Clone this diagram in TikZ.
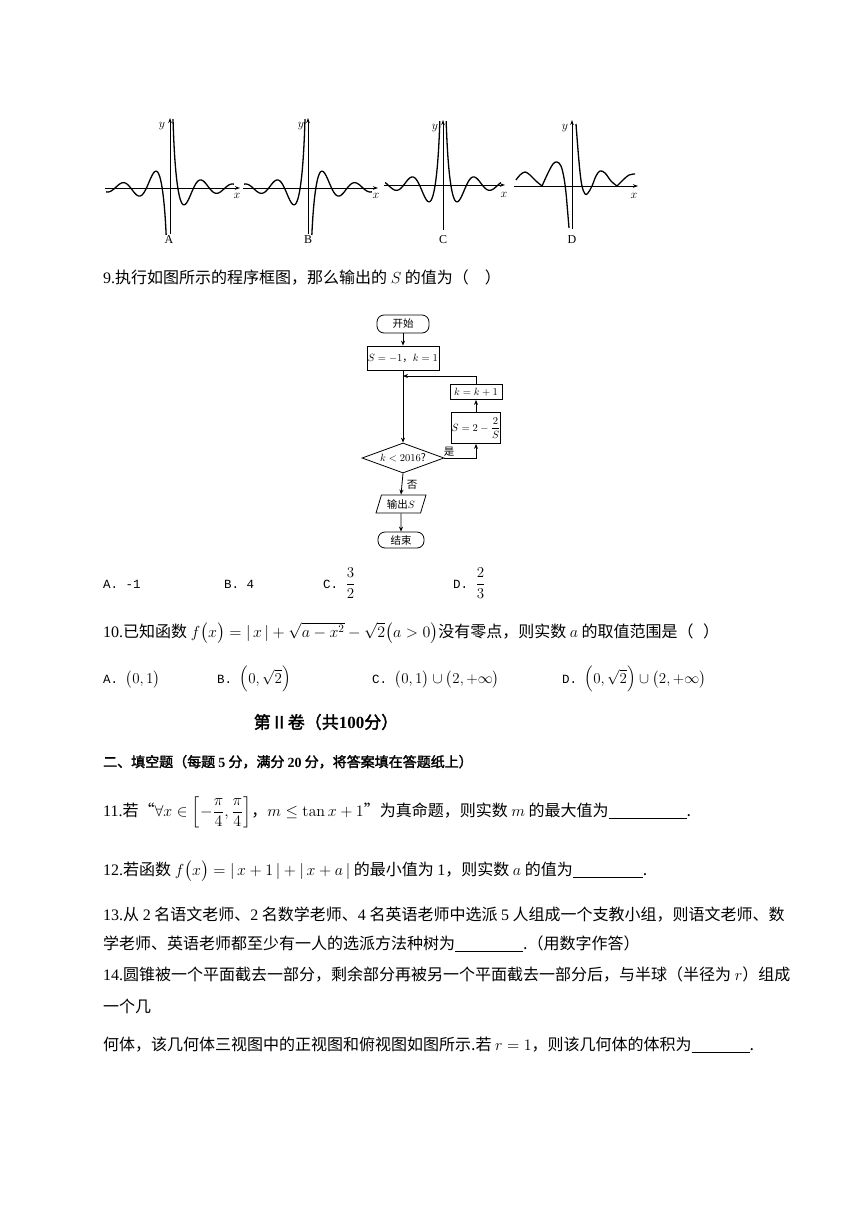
\RequirePackage{fix-cm}
\documentclass[tikz,border=0pt]{standalone}
\usepackage{amsmath}
\usepackage[no-math]{fontspec}
\setmainfont{Liberation Serif}
\newfontfamily\cjk{Noto Sans CJK SC}
\newfontfamily\cjkb[FakeBold=2]{Noto Sans CJK SC}
\newfontfamily\optf{Liberation Mono}
\usetikzlibrary{arrows.meta,shapes.geometric}
\newcommand\lt[1]{{\rmfamily #1}}
\newcommand\blk[1]{\rule[-3pt]{#1}{0.7pt}}
\tikzset{
  txt/.style={anchor=base west, inner sep=0pt, font=\fontsize{16}{19}\selectfont\cjk},
  opt/.style={anchor=base west, inner sep=0pt, font=\fontsize{12.5}{15}\selectfont\optf},
  curve/.style={line width=1.3pt, line join=round},
  axis/.style={line width=0.9pt, -{Stealth[length=5pt,width=3.5pt]}},
  glab/.style={inner sep=0pt, font=\fontsize{12}{14}\selectfont\rmfamily},
  fc/.style={draw, line width=0.8pt, inner sep=1pt, font=\fontsize{10.5}{12}\selectfont\cjk, align=center},
  fl/.style={line width=0.8pt, -{Stealth[length=5pt,width=4pt]}},
  fclab/.style={inner sep=0pt, font=\fontsize{10.5}{12}\selectfont\cjk}
}
\begin{document}
\begin{tikzpicture}[x=1pt,y=-1pt]
\fill[white] (0,0) rectangle (860,1216);
\useasboundingbox (0,0) rectangle (860,1216);

% ---------- Graph A ----------
\begin{scope}
\clip (106,119) rectangle (238,234);
\draw[curve] plot[domain=-12.8:-0.08, samples=260] ({170+5*\x},{188-50*cos(\x r)/\x});
\draw[curve] plot[domain=0.08:12.8, samples=260] ({170+5*\x},{188-50*cos(\x r)/\x});
\end{scope}
\draw[axis] (105,188) -- (240,188);
\draw[axis] (170,234) -- (170,118);
\node[glab] (ya) at (162,126) {$y$};
\node[glab] (xa) at (237,196) {$x$};
\node[glab] (la) at (169,240) {A};

% ---------- Graph B ----------
\begin{scope}
\clip (244,119) rectangle (374,234);
\draw[curve] plot[domain=-12.8:-0.08, samples=260] ({308+5*\x},{188+50*cos(\x r)/\x});
\draw[curve] plot[domain=0.08:12.8, samples=260] ({308+5*\x},{188+50*cos(\x r)/\x});
\end{scope}
\draw[axis] (243,188) -- (378,188);
\draw[axis] (308,234) -- (308,118);
\node[glab] (yb) at (301,126) {$y$};
\node[glab] (xb) at (376,196) {$x$};
\node[glab] (lb) at (308,240) {B};

% ---------- Graph C ----------
\begin{scope}
\clip (385,121) rectangle (502,230);
\draw[curve] plot[domain=-11.6:-0.08, samples=260] ({443+5*\x},{185+50*cos(\x r)/\x});
\draw[curve] plot[domain=0.08:11.6, samples=260] ({443+5*\x},{185-50*cos(\x r)/\x});
\end{scope}
\draw[axis] (384,185) -- (505,185);
\draw[axis] (443,230) -- (443,120);
\node[glab] (yc) at (435,128) {$y$};
\node[glab] (xc) at (504,195) {$x$};
\node[glab] (lc) at (443,240) {C};

% ---------- Graph D ----------
\draw[curve] plot[smooth, tension=0.6] coordinates {(516,180) (520,175) (525,172) (530,175) (536,181) (542,186)};
\draw[curve] plot[smooth, tension=0.6] coordinates {(542,186) (548,173) (553,164) (557,162) (561,166) (564,178) (566,193) (567.5,210) (569,228)};
\draw[curve] plot[smooth, tension=0.6] coordinates {(576,124) (578,150) (580,172) (582,186) (585,194) (588,193) (592,186) (596,176) (600,171) (605,173) (611,181) (617,186)};
\draw[curve] plot[smooth, tension=0.6] coordinates {(617,186) (623,180) (629,175) (635,174)};
\draw[axis] (514,186) -- (638,186);
\draw[axis] (572,229) -- (572,120);
\node[glab] (yd) at (565,128) {$y$};
\node[glab] (xd) at (634,196) {$x$};
\node[glab] (ld) at (572,240) {D};

% ---------- Question 9 ----------
\node[txt] (q9) at (103,283) {\lt{9.}执行如图所示的程序框图，那么输出的~$S$~的值为（\hspace{1em}）};

% ---------- Flowchart ----------
\node[fc, rounded corners=7pt, minimum width=52pt, minimum height=18pt] (start) at (403,324) {开始};
\node[fc, minimum width=71pt, minimum height=24pt] (init) at (403,358) {$S=-1$，$k=1$};
\node[fc, minimum width=52pt, minimum height=15pt] (inc) at (476,392) {$k=k+1$};
\node[fc, minimum width=48pt, minimum height=31pt, inner sep=0pt] (upd) at (476,428) {$S=2-\dfrac{2}{S}$};
\node[fc, diamond, aspect=2.7, minimum width=82pt, minimum height=30pt, inner sep=0pt] (dec) at (403,458) {$k<2016$?};
\node[fc, trapezium, trapezium left angle=65, trapezium right angle=115, trapezium stretches body, minimum width=50pt, minimum height=18pt] (out) at (401,504) {输出$S$};
\node[fc, rounded corners=7pt, minimum width=46pt, minimum height=16pt] (end) at (401,540) {结束};
\coordinate (j) at (403,376);
\draw[fl] (start) -- (init);
\draw[fl] (init.south) -- (dec.north);
\draw[fl] (dec.east) -| (upd.south);
\draw[fl] (upd) -- (inc);
\draw[fl] (inc.north) |- (j);
\draw[fl] (dec.south) -- (out.north);
\draw[fl] (out.south) -- (end.north);
\node[fclab] (yes) at (449,452) {是};
\node[fclab] (no) at (412,485) {否};

% ---------- Options of 9 ----------
\node[opt] (a9) at (103,588) {A.~-1};
\node[opt] (b9) at (224,588) {B.~4};
\node[opt] (c9) at (323,588) {C.~{\fontsize{15}{18}\selectfont$\dfrac{3}{2}$}};
\node[opt] (d9) at (453,588) {D.~{\fontsize{15}{18}\selectfont$\dfrac{2}{3}$}};

% ---------- Question 10 ----------
\node[txt] (q10) at (103,637) {\lt{10.}已知函数~$f\bigl(x\bigr)=|\,x\,|+\sqrt{a-x^{2}}-\sqrt{2}\bigl(a>0\bigr)$没有零点，则实数~$a$~的取值范围是（\hspace{0.6em}）};
\node[opt] (a10) at (103,683) {A.~{\fontsize{15}{18}\selectfont$\bigl(0,1\bigr)$}};
\node[opt] (b10) at (217,683) {B.~{\fontsize{15}{18}\selectfont$\Bigl(0,\sqrt{2}\Bigr)$}};
\node[opt] (c10) at (372,683) {C.~{\fontsize{15}{18}\selectfont$\bigl(0,1\bigr)\cup\bigl(2,{+}\infty\bigr)$}};
\node[opt] (d10) at (562,683) {D.~{\fontsize{15}{18}\selectfont$\Bigl(0,\sqrt{2}\Bigr)\cup\bigl(2,{+}\infty\bigr)$}};

% ---------- Part II ----------
\node[inner sep=0pt, font=\fontsize{17}{20}\selectfont\cjkb] (h2) at (326,722) {第Ⅱ卷（共{\rmfamily\bfseries 100}分）};
\node[txt, font=\fontsize{14}{17}\selectfont\cjkb] (sec) at (103,767) {二、填空题（每题~{\rmfamily\bfseries 5}~分，满分~{\rmfamily\bfseries 20}~分，将答案填在答题纸上）};

\node[txt] (q11) at (103,816) {\lt{11.}若“$\forall x\in\left[-\dfrac{\pi}{4},\dfrac{\pi}{4}\right]$，$m\le\tan x+1$”为真命题，则实数~$m$~的最大值为\blk{78pt}.};
\node[txt] (q12) at (103,875) {\lt{12.}若函数~$f\bigl(x\bigr)=|\,x+1\,|+|\,x+a\,|$~的最小值为~\lt{1}，则实数~$a$~的值为\blk{70pt}.};
\node[txt] (q13a) at (103,920) {\lt{13.}从~\lt{2}~名语文老师、\lt{2}~名数学老师、\lt{4}~名英语老师中选派~\lt{5}~人组成一个支教小组，则语文老师、数};
\node[txt] (q13b) at (103,949) {学老师、英语老师都至少有一人的选派方法种树为\blk{68pt}.（用数字作答）};
\node[txt] (q14a) at (103,980) {\lt{14.}圆锥被一个平面截去一部分，剩余部分再被另一个平面截去一部分后，与半球（半径为~$r$）组成};
\node[txt] (q14b) at (103,1012) {一个几};
\node[txt] (q14c) at (103,1050) {何体，该几何体三视图中的正视图和俯视图如图所示.若~$r=1$，则该几何体的体积为\blk{58pt}.};
\end{tikzpicture}
\end{document}
